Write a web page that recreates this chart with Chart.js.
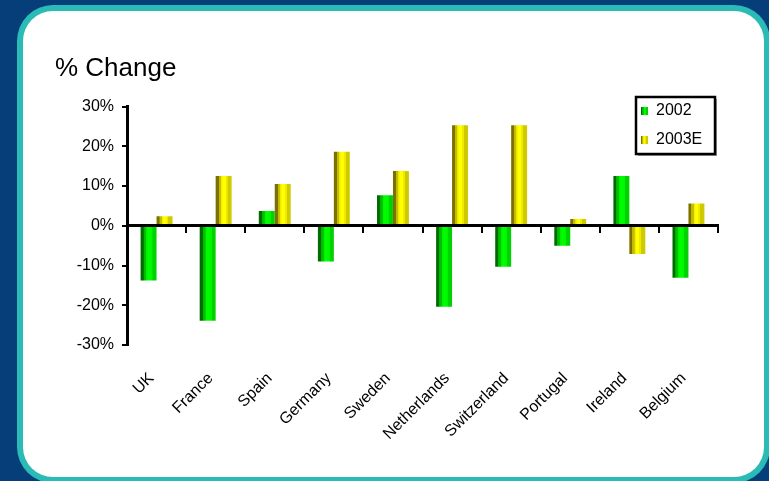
<!DOCTYPE html>
<html>
<head>
<meta charset="utf-8">
<script src="https://cdn.jsdelivr.net/npm/chart.js@4/dist/chart.umd.min.js"></script>
<style>
  html, body { margin: 0; padding: 0; background: #063e7a; }
  #wrap { width: 769px; height: 481px; }
</style>
</head>
<body>
<div id="wrap"><canvas id="c" width="769" height="481"></canvas></div>
<script>
// Countries on the category axis
const categories = ['UK', 'France', 'Spain', 'Germany', 'Sweden', 'Netherlands', 'Switzerland', 'Portugal', 'Ireland', 'Belgium'];
// Percentage change per country
const change2002 = [-13.8, -23.9, 3.7, -9.0, 7.7, -20.4, -10.3, -5.0, 12.5, -13.1];
const change2003E = [2.4, 12.5, 10.5, 18.6, 13.8, 25.3, 25.3, 1.7, -7.1, 5.6];
// Value axis ticks
const yTicks = [-30, -20, -10, 0, 10, 20, 30];

const FONT = '"Liberation Sans", Arial, sans-serif';

// Cylinder-like shading stops for each series
const shades = {
  green: [[0, '#006c00'], [0.18, '#006c00'], [0.19, '#00b400'], [0.36, '#00c800'], [0.37, '#00ee00'], [0.5, '#00ff00'], [0.74, '#00f400'], [0.75, '#00d400'], [1, '#00d000']],
  yellow: [[0, '#7c7000'], [0.18, '#7c7000'], [0.19, '#c2b800'], [0.32, '#c8c000'], [0.33, '#e8e400'], [0.45, '#ffff00'], [0.62, '#ffff00'], [0.63, '#eeea00'], [0.74, '#eeea00'], [0.75, '#cfca00'], [1, '#cfca00']]
};

function shadeGradient(ctx, left, width, stops) {
  const g = ctx.createLinearGradient(left, 0, left + width, 0);
  stops.forEach(s => g.addColorStop(s[0], s[1]));
  return g;
}

// Page frame: dark blue backdrop with a rounded white panel
const framePlugin = {
  id: 'frame',
  beforeDraw(chart) {
    const ctx = chart.ctx;
    ctx.save();
    ctx.fillStyle = '#063e7a';
    ctx.fillRect(0, 0, chart.width, chart.height);
    ctx.fillStyle = '#2bbbb7';
    ctx.beginPath();
    ctx.roundRect(17, 5, 753, 478, 36);
    ctx.fill();
    ctx.fillStyle = '#ffffff';
    ctx.beginPath();
    ctx.roundRect(23, 11, 741, 466, 30);
    ctx.fill();
    ctx.restore();
  }
};

// Shade each bar horizontally across its own width
const shadePlugin = {
  id: 'shade',
  beforeDatasetsDraw(chart) {
    const ctx = chart.ctx;
    chart.data.datasets.forEach((ds, i) => {
      const meta = chart.getDatasetMeta(i);
      meta.data.forEach(el => {
        const p = el.getProps(['x', 'width'], true);
        const left = p.x - p.width / 2;
        el.options = Object.assign({}, el.options, {
          backgroundColor: shadeGradient(ctx, left, p.width, shades[ds.shade])
        });
      });
    });
  }
};

// Boxed legend in the upper right corner
const boxLegendPlugin = {
  id: 'boxLegend',
  afterDraw(chart) {
    const ctx = chart.ctx;
    const bx = 636, by = 97, bw = 79, bh = 57;
    ctx.save();
    ctx.fillStyle = '#9a9a9a';
    ctx.fillRect(bx + 2, by + 2, bw, bh);
    ctx.fillStyle = '#ffffff';
    ctx.fillRect(bx, by, bw, bh);
    ctx.strokeStyle = '#000000';
    ctx.lineWidth = 2.5;
    ctx.strokeRect(bx, by, bw, bh);
    ctx.font = '16px ' + FONT;
    ctx.textBaseline = 'middle';
    ctx.textAlign = 'left';
    chart.data.datasets.forEach((ds, i) => {
      const cy = 111 + i * 29;
      ctx.fillStyle = shadeGradient(ctx, 641, 7, shades[ds.shade]);
      ctx.fillRect(641, cy - 4, 7, 8);
      ctx.fillStyle = '#000000';
      ctx.fillText(ds.label, 656, cy);
    });
    ctx.restore();
  }
};

new Chart(document.getElementById('c'), {
  type: 'bar',
  data: {
    labels: categories,
    datasets: [
      { label: '2002', data: change2002, shade: 'green', backgroundColor: '#00e000',
        categoryPercentage: 0.54, barPercentage: 1.0, borderWidth: 0 },
      { label: '2003E', data: change2003E, shade: 'yellow', backgroundColor: '#f0f000',
        categoryPercentage: 0.54, barPercentage: 1.0, borderWidth: 0 }
    ]
  },
  options: {
    responsive: false,
    animation: false,
    devicePixelRatio: 1,
    layout: { padding: { left: 55, top: 53, right: 51, bottom: 0 } },
    plugins: {
      legend: { display: false },
      tooltip: { enabled: false },
      title: {
        display: true,
        text: '% Change',
        align: 'start',
        color: '#000000',
        font: { family: FONT, size: 26, weight: 'normal', lineHeight: 1.2 },
        padding: { top: 0, bottom: 22.3 }
      }
    },
    scales: {
      x: {
        position: 'bottom',
        offset: true,
        grid: { display: false },
        border: { display: false },
        afterFit(scale) { scale.height = 136; },
        ticks: {
          autoSkip: false,
          minRotation: 45,
          maxRotation: 45,
          padding: 16,
          labelOffset: -5,
          color: '#000000',
          font: { family: FONT, size: 16 }
        }
      },
      xz: {
        type: 'category',
        axis: 'x',
        position: { y: 0 },
        offset: true,
        grid: { offset: true, drawOnChartArea: false, drawTicks: true, tickLength: 6, color: '#000000', lineWidth: 2, z: 1 },
        border: { color: '#000000', width: 3, z: 1 },
        ticks: { display: false }
      },
      y: {
        min: -30,
        max: 30,
        afterFit(scale) { scale.width = 72; },
        afterBuildTicks(scale) { scale.ticks = yTicks.map(v => ({ value: v })); },
        grid: { drawOnChartArea: false, drawTicks: true, tickLength: 5, color: '#000000', lineWidth: 2 },
        border: { color: '#000000', width: 3 },
        ticks: {
          padding: 8,
          color: '#000000',
          font: { family: FONT, size: 16 },
          callback: v => v + '%'
        }
      }
    }
  },
  plugins: [framePlugin, shadePlugin, boxLegendPlugin]
});
</script>
</body>
</html>
